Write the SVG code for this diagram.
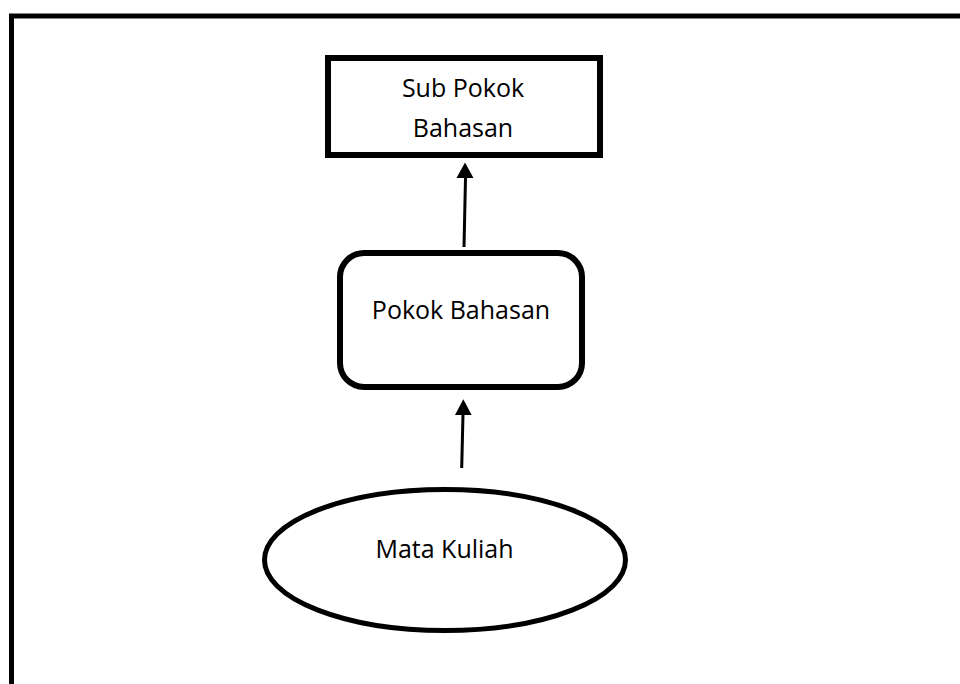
<svg xmlns="http://www.w3.org/2000/svg" width="960" height="684" viewBox="0 0 960 684">
  <style>
    .lbl { font-family: "Open Sans", "Liberation Sans", sans-serif; font-size: 25px; fill: #000; text-anchor: middle; }
    .conn { stroke: #000; stroke-width: 3; fill: none; }
  </style>
  <defs>
    <marker id="arrow" viewBox="0 0 17 15" refX="8.5" refY="0" markerWidth="17" markerHeight="15" markerUnits="userSpaceOnUse" orient="auto-start-reverse">
      <path d="M0,15 L8.5,0 L17,15 Z" fill="#000"/>
    </marker>
  </defs>
  <rect width="960" height="684" fill="#fff"/>
  <g id="frame">
    <path d="M11.5,700 L11.5,16 L980,16" fill="none" stroke="#000" stroke-width="5"/>
  </g>
  <g id="node-sub-pokok-bahasan">
    <rect x="328" y="58" width="272" height="97" fill="#fff" stroke="#000" stroke-width="6"/>
    <text class="lbl" x="463" y="97">Sub Pokok</text>
    <text class="lbl" x="463" y="136.5">Bahasan</text>
  </g>
  <g id="node-pokok-bahasan">
    <rect x="340" y="253" width="242" height="134" rx="24" ry="24" fill="#fff" stroke="#000" stroke-width="6"/>
    <text class="lbl" x="461" y="318.5">Pokok Bahasan</text>
  </g>
  <g id="node-mata-kuliah">
    <ellipse cx="445" cy="560" rx="180.5" ry="70.5" fill="#fff" stroke="#000" stroke-width="5"/>
    <text class="lbl" x="444.5" y="558">Mata Kuliah</text>
  </g>
  <g id="connectors">
    <path class="conn" d="M464,247 L465.5,178" />
    <path d="M456.5,178 L465,162.5 L473.5,178 Z" fill="#000"/>
    <path class="conn" d="M461.7,468 L463,414" />
    <path d="M455,415 L463.3,399.3 L471.7,415 Z" fill="#000"/>
  </g>
</svg>
